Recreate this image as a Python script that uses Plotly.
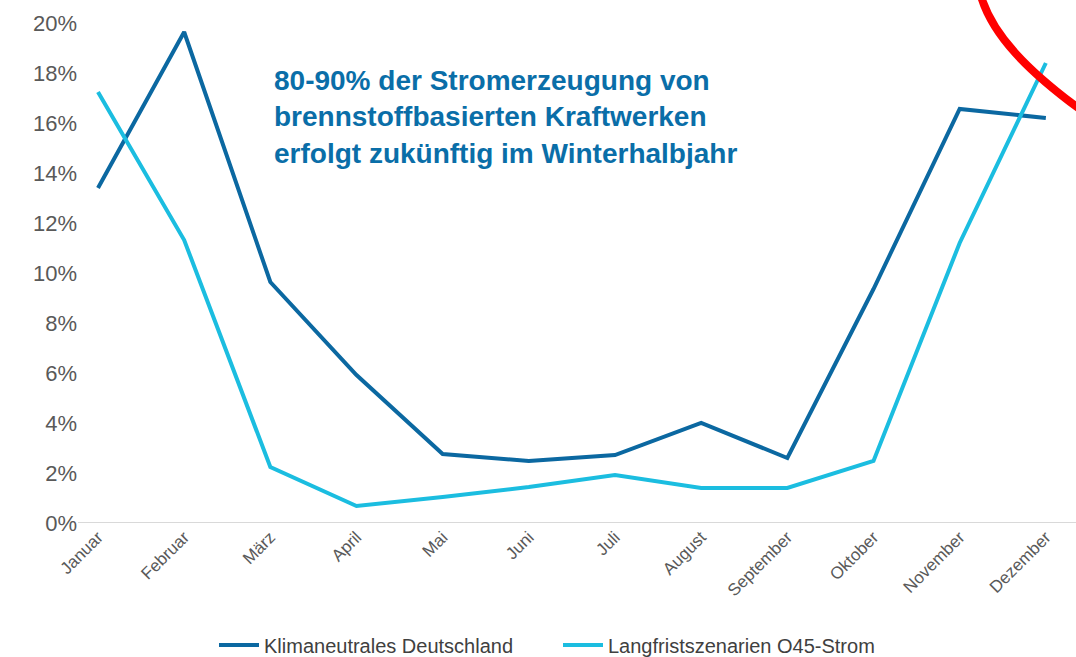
import plotly.graph_objects as go

months = ["Januar", "Februar", "März", "April", "Mai", "Juni", "Juli",
          "August", "September", "Oktober", "November", "Dezember"]
klimaneutral = [13.4, 19.64, 9.64, 5.92, 2.76, 2.48, 2.72, 4.0, 2.6, 9.36, 16.56, 16.2]
langfrist = [17.24, 11.32, 2.24, 0.68, 1.04, 1.44, 1.92, 1.4, 1.4, 2.48, 11.2, 18.4]
y_ticks = [0, 2, 4, 6, 8, 10, 12, 14, 16, 18, 20]

DARK = "#0b68a1"
LIGHT = "#1bbde0"
FONT = "Arial, Liberation Sans, sans-serif"

fig = go.Figure()
fig.add_trace(go.Scatter(x=months, y=klimaneutral, mode="lines",
                         name="Klimaneutrales Deutschland",
                         line=dict(color=DARK, width=4)))
fig.add_trace(go.Scatter(x=months, y=langfrist, mode="lines",
                         name="Langfristszenarien O45-Strom",
                         line=dict(color=LIGHT, width=4)))

W, H = 1076, 657
L, T, B = 78, 23, 134
pw, ph = W - L, H - T - B

def px(x):
    return (x - L) / pw

def py(y):
    return (H - B - y) / ph

fig.update_layout(
    width=W, height=H,
    margin=dict(l=L, r=0, t=T, b=B, autoexpand=False),
    paper_bgcolor="white", plot_bgcolor="white",
    font=dict(family=FONT, color="#595959"),
    showlegend=True,
    legend=dict(orientation="h", x=px(214), y=py(645), xanchor="left", yanchor="middle",
                font=dict(size=20, color="#404040"), entrywidth=289, itemwidth=40,
                tracegroupgap=0, bgcolor="rgba(0,0,0,0)"),
    xaxis=dict(type="category", categoryarray=months, range=[-0.232, 11.35],
               showgrid=False, zeroline=False, showline=False, ticks="",
               tickangle=-45, tickfont=dict(size=17, color="#595959")),
    yaxis=dict(range=[0, 20], tickvals=y_ticks,
               ticktext=[f"{v}%" for v in y_ticks], showgrid=False,
               zeroline=False, showline=False, ticks="",
               tickfont=dict(size=22, color="#595959")),
)

# baseline
fig.add_shape(type="line", xref="paper", yref="y", x0=0, x1=1, y0=0, y1=0,
              line=dict(color="#d9d9d9", width=2), layer="below")

fig.add_annotation(
    xref="paper", yref="paper", x=px(272), y=py(63), xanchor="left", yanchor="top",
    text="<b>80-90% der Stromerzeugung von<br>brennstoffbasierten Kraftwerken<br>erfolgt zukünftig im Winterhalbjahr</b>",
    showarrow=False, align="left",
    font=dict(family=FONT, size=28, color="#0a6ea8"))

# red highlight arc (top right)
p0 = (px(979), py(-12))
c1 = (px(988), py(33))
c2 = (px(1030), py(74))
p3 = (px(1092), py(118))
fig.add_shape(type="path", xref="paper", yref="paper",
              path=f"M {p0[0]},{p0[1]} C {c1[0]},{c1[1]} {c2[0]},{c2[1]} {p3[0]},{p3[1]}",
              line=dict(color="#ff0000", width=8))

fig.write_html("out.html", config={"displayModeBar": False},
               post_script="document.body.style.margin='0';document.body.style.overflow='hidden';")
